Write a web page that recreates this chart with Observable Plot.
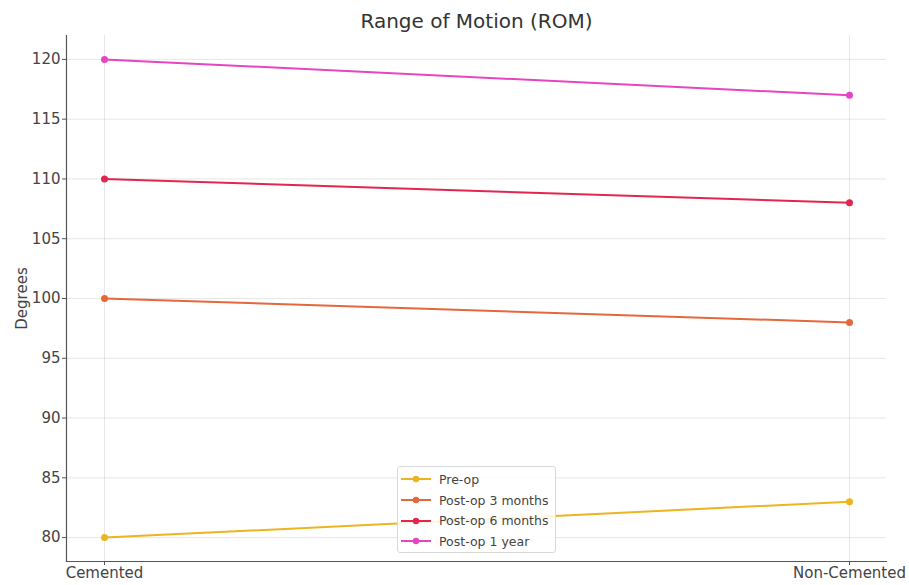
<!DOCTYPE html>
<html>
<head>
<meta charset="utf-8">
<script src="https://cdn.jsdelivr.net/npm/d3@7"></script>
<script src="https://cdn.jsdelivr.net/npm/@observablehq/plot@0.6"></script>
<style>
  html, body { margin: 0; padding: 0; background: #fff; }
  #wrap { position: relative; width: 909px; height: 585px; font-family: "DejaVu Sans", sans-serif; }
  #legend {
    position: absolute; left: 397px; top: 466px; width: 159px; height: 87px;
    border: 1px solid #d8d8d8; border-radius: 3px; background: rgba(255,255,255,0.85);
    box-sizing: border-box; padding-top: 2px;
  }
  .row { display: flex; align-items: center; height: 20.7px; font-size: 12.5px; color: #444; white-space: nowrap; }
  .row svg { margin-left: 3px; margin-right: 8px; flex: none; }
</style>
</head>
<body>
<div id="wrap"><div id="legend"></div></div>
<script>
// Groups along the x axis and the follow-up periods (one line each)
const groups = ["Cemented", "Non-Cemented"];
const periods = ["Pre-op", "Post-op 3 months", "Post-op 6 months", "Post-op 1 year"];

// Range of motion in degrees, per period, for [Cemented, Non-Cemented]
const preOp = [80, 83];
const postOp3m = [100, 98];
const postOp6m = [110, 108];
const postOp1y = [120, 117];

const periodColors = ["#ecb520", "#e5683a", "#e2264f", "#e445c2"];
const yTicks = [80, 85, 90, 95, 100, 105, 110, 115, 120];

const series = [preOp, postOp3m, postOp6m, postOp1y];
const rows = periods.flatMap((p, i) => groups.map((g, j) => ({period: p, group: g, value: series[i][j]})));

const chart = Plot.plot({
  width: 909,
  height: 585,
  marginLeft: 66,
  marginRight: 23,
  marginTop: 35,
  marginBottom: 24,
  style: {fontFamily: "DejaVu Sans, sans-serif", fontSize: "15px", color: "#444", background: "#fff", overflow: "visible"},
  x: {type: "point", domain: groups, padding: 0.05},
  y: {domain: [78, 122]},
  color: {domain: periods, range: periodColors},
  marks: [
    Plot.gridX(groups, {stroke: "#b0b0b0", strokeOpacity: 0.3}),
    Plot.gridY(yTicks, {stroke: "#b0b0b0", strokeOpacity: 0.3}),
    Plot.frame({anchor: "left", stroke: "#555", strokeWidth: 1.2}),
    Plot.frame({anchor: "bottom", stroke: "#555", strokeWidth: 1.2}),
    Plot.axisY(yTicks, {tickSize: 4, tickPadding: 2, stroke: "#555", fontSize: 15,
      label: "Degrees", labelArrow: "none", labelAnchor: "center", labelOffset: 50}),
    Plot.axisX(groups, {tickSize: 4, tickPadding: 2, stroke: "#555", fontSize: 15, label: null}),
    Plot.line(rows, {x: "group", y: "value", stroke: "period", z: "period", strokeWidth: 2}),
    Plot.dot(rows, {x: "group", y: "value", fill: "period", r: 3.5}),
    Plot.text(["Range of Motion (ROM)"], {frameAnchor: "top", lineAnchor: "middle", dy: -14, fontSize: 20, fill: "#333"})
  ]
});
const wrap = document.getElementById("wrap");
wrap.insertBefore(chart, wrap.firstChild);

// Legend: line with marker swatch per period
const legend = document.getElementById("legend");
periods.forEach((p, i) => {
  const row = document.createElement("div");
  row.className = "row";
  row.innerHTML = `<svg width="30" height="10"><line x1="0" y1="5" x2="30" y2="5" stroke="${periodColors[i]}" stroke-width="2"/><circle cx="15" cy="5" r="3.2" fill="${periodColors[i]}"/></svg><span>${p}</span>`;
  legend.appendChild(row);
});
</script>
</body>
</html>
